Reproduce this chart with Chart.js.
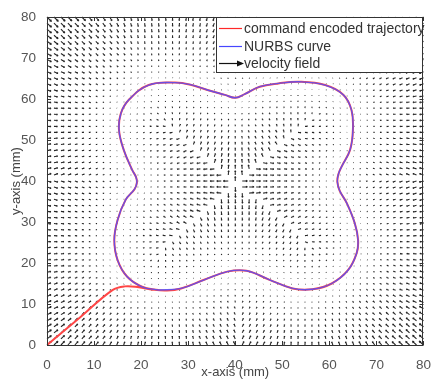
<!DOCTYPE html>
<html><head><meta charset="utf-8">
<script src="https://cdn.jsdelivr.net/npm/chart.js@4.4.0/dist/chart.umd.min.js"></script>
<style>html,body{margin:0;padding:0;background:#fff}#wrap{width:435px;height:379px}</style>
</head><body><div id="wrap"><canvas id="c" width="435" height="379"></canvas></div>
<script>
// ---- data ----
const tickValues = [0, 10, 20, 30, 40, 50, 60, 70, 80];
const legendLabels = ["command encoded trajectory", "NURBS curve", "velocity field"];
const xTitle = "x-axis (mm)";
const yTitle = "y-axis (mm)";

// NURBS curve (closed, counter-clockwise from the bottom-left)
const nurbsX = [23.7, 28.5, 33.4, 38.3, 42.4, 47.3, 52.2, 56.4, 60.5, 64.0, 65.8, 66.1, 65.4, 63.7, 62.2, 61.7,
  61.9, 62.6, 64.4, 65.0, 64.7, 63.0, 59.1, 53.6, 49.2, 45.2, 42.0, 40.0, 37.8, 34.1, 30.5, 27.1, 21.6, 17.4,
  15.7, 15.3, 16.3, 18.1, 18.9, 19.1, 18.6, 16.7, 15.0, 14.3, 15.0, 17.0, 20.2, 23.7];
const nurbsY = [13.4, 13.8, 15.9, 17.9, 18.1, 15.9, 13.8, 13.6, 15.0, 18.3, 22.4, 25.6, 29.7, 34.6, 37.6, 39.8,
  41.6, 43.5, 47.6, 52.4, 57.3, 61.0, 63.4, 64.2, 63.8, 63.0, 61.2, 60.3, 61.0, 62.2, 63.5, 64.0, 63.4, 59.8,
  56.5, 52.4, 47.6, 42.7, 41.0, 39.6, 38.0, 35.4, 30.5, 25.6, 20.7, 16.7, 14.2, 13.4];

// command encoded trajectory: approach from the origin, then the closed loop
const approachX = [0, 7.0, 13.9, 16.5, 19.5, 22.5, 25.5];
const approachY = [0, 6.7, 13.4, 14.3, 14.1, 13.5, 13.3];

// velocity field sampling grid (points per axis over 0..80)
const fieldGridCount = 55;

// ---- build datasets ----
const nurbsData = nurbsX.map((v, i) => ({x: v, y: nurbsY[i]}));
const trajData = approachX.map((v, i) => ({x: v, y: approachY[i]}))
  .concat(nurbsX.slice(1).map((v, i) => ({x: v, y: nurbsY[i + 1]})));

const quiverPlugin = {
  id: 'quiver',
  beforeDatasetsDraw(chart) {
    const {ctx, scales: {x, y}} = chart;
    const pts = [];
    for (let i = 0; i < nurbsX.length - 1; i++) {
      for (let k = 0; k < 20; k++) {
        const t = k / 20;
        pts.push([nurbsX[i] + (nurbsX[i + 1] - nurbsX[i]) * t, nurbsY[i] + (nurbsY[i + 1] - nurbsY[i]) * t]);
      }
    }
    const n = fieldGridCount, step = 80 / (n - 1);
    const vecs = []; let maxL = 0;
    for (let i = 0; i < n; i++) for (let j = 0; j < n; j++) {
      const gx = i * step, gy = j * step;
      let best = 1e9, bx = 0, by = 0;
      for (const p of pts) {
        const dx = p[0] - gx, dy = p[1] - gy, d = dx * dx + dy * dy;
        if (d < best) { best = d; bx = dx; by = dy; }
      }
      vecs.push([gx, gy, bx, by]);
      maxL = Math.max(maxL, Math.sqrt(best));
    }
    const s = 1.0 * step / maxL;
    ctx.save();
    ctx.strokeStyle = 'rgba(0,0,0,0.85)';
    ctx.lineWidth = 1.1;
    ctx.beginPath();
    for (const [gx, gy, bx, by] of vecs) {
      const x0 = x.getPixelForValue(gx), y0 = y.getPixelForValue(gy);
      const x1 = x.getPixelForValue(gx + bx * s), y1 = y.getPixelForValue(gy + by * s);
      const L = Math.hypot(x1 - x0, y1 - y0);
      if (L < 0.3) { ctx.moveTo(x0, y0); ctx.lineTo(x0 + 0.6, y0); continue; }
      ctx.moveTo(x0, y0); ctx.lineTo(x1, y1);
      const ang = Math.atan2(y1 - y0, x1 - x0), h = 0.35 * L;
      ctx.moveTo(x1, y1); ctx.lineTo(x1 - h * Math.cos(ang - 0.4), y1 - h * Math.sin(ang - 0.4));
      ctx.moveTo(x1, y1); ctx.lineTo(x1 - h * Math.cos(ang + 0.4), y1 - h * Math.sin(ang + 0.4));
    }
    ctx.stroke();
    ctx.restore();
  },
  afterDraw(chart) {
    const {ctx, chartArea: a, scales: {x, y}} = chart;
    ctx.save();
    // frame
    ctx.strokeStyle = '#333'; ctx.lineWidth = 1;
    ctx.strokeRect(Math.round(a.left) + 0.5, Math.round(a.top) + 0.5, Math.round(a.right - a.left) - 1, Math.round(a.bottom - a.top));
    // inward ticks
    ctx.beginPath();
    for (const v of tickValues) {
      const px = Math.round(x.getPixelForValue(v)) + 0.5, py = Math.round(y.getPixelForValue(v)) + 0.5;
      ctx.moveTo(px, a.bottom); ctx.lineTo(px, a.bottom - 4);
      ctx.moveTo(px, a.top); ctx.lineTo(px, a.top + 4);
      ctx.moveTo(a.left, py); ctx.lineTo(a.left + 4, py);
      ctx.moveTo(a.right, py); ctx.lineTo(a.right - 4, py);
    }
    ctx.stroke();
    // axis titles
    ctx.fillStyle = '#444';
    ctx.font = '13px "Liberation Sans", Arial, sans-serif';
    ctx.textAlign = 'center'; ctx.textBaseline = 'middle';
    ctx.fillText(xTitle, (a.left + a.right) / 2, 372);
    ctx.translate(16, (a.top + a.bottom) / 2);
    ctx.rotate(-Math.PI / 2);
    ctx.fillText(yTitle, 0, 0);
    ctx.restore();

    // legend
    ctx.save();
    const bx = 216, by = Math.round(a.top), bw = Math.round(a.right) - bx, bh = 55;
    ctx.fillStyle = '#fff';
    ctx.fillRect(bx, by, bw, bh);
    ctx.strokeStyle = '#333'; ctx.lineWidth = 1;
    ctx.strokeRect(bx + 0.5, by + 0.5, bw - 1, bh);
    const rows = [28, 46, 63];
    const cols = ['rgb(255,40,40)', 'rgb(70,70,255)', '#111'];
    ctx.font = '14px "Liberation Sans", Arial, sans-serif';
    ctx.textAlign = 'left'; ctx.textBaseline = 'middle';
    rows.forEach((ry, i) => {
      ctx.strokeStyle = cols[i]; ctx.lineWidth = 1.2;
      ctx.beginPath(); ctx.moveTo(219, ry + 0.5); ctx.lineTo(242, ry + 0.5); ctx.stroke();
      if (i === 2) {
        ctx.fillStyle = '#111';
        ctx.beginPath(); ctx.moveTo(244, ry + 0.5); ctx.lineTo(237, ry - 2.5); ctx.lineTo(237, ry + 3.5); ctx.closePath(); ctx.fill();
      }
      ctx.fillStyle = '#333';
      ctx.fillText(legendLabels[i], 244, ry + 1);
    });
    ctx.restore();
  }
};

new Chart(document.getElementById('c'), {
  type: 'scatter',
  data: {
    datasets: [
      {label: legendLabels[1], data: nurbsData, showLine: true, borderColor: 'rgba(80,80,255,0.85)', borderWidth: 1.4,
        pointRadius: 0, tension: 0.4, order: 0},
      {label: legendLabels[0], data: trajData, showLine: true, borderColor: 'rgb(255,70,70)', borderWidth: 2,
        pointRadius: 0, tension: 0.4, order: 1}
    ]
  },
  options: {
    responsive: false, animation: false, devicePixelRatio: 1,
    layout: {padding: {left: 0, right: 5, top: 17, bottom: 0}},
    plugins: {legend: {display: false}, tooltip: {enabled: false}},
    scales: {
      x: {type: 'linear', min: 0, max: 80,
        afterFit(s) { s.height = 34; },
        afterBuildTicks(s) { s.ticks = tickValues.map(v => ({value: v})); },
        ticks: {padding: 4, color: '#555', font: {size: 13.5, family: '"Liberation Sans", Arial, sans-serif'}, maxRotation: 0, autoSkip: false},
        grid: {display: false}, border: {display: false}},
      y: {type: 'linear', min: 0, max: 80,
        afterFit(s) { s.width = 47; },
        afterBuildTicks(s) { s.ticks = tickValues.map(v => ({value: v})); },
        ticks: {padding: 3, color: '#555', font: {size: 13.5, family: '"Liberation Sans", Arial, sans-serif'}, autoSkip: false},
        grid: {display: false}, border: {display: false}}
    }
  },
  plugins: [quiverPlugin]
});
</script>
</body></html>
